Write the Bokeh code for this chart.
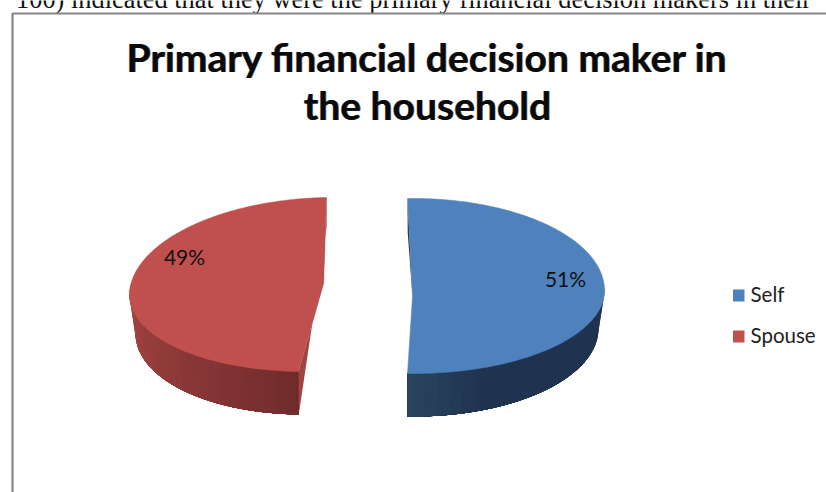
import numpy as np
from bokeh.core.properties import value
from bokeh.embed import file_html
from bokeh.plotting import figure
from bokeh.resources import INLINE

# Chart content
chart_title = ["Primary financial decision maker in", "the household"]
body_line = "100) indicated that they were the primary financial decision makers in their"
categories = ["Self", "Spouse"]
shares = [51, 49]
top_colors = ["#4F81BD", "#C0504D"]
wall_colors = ["#1F3350", "#9E4441"]

WIDTH, HEIGHT = 826, 492
START_ANGLE = -1.8
DEPTH_CENTRE = 38

# Placement of each exploded slice in page pixels
slices = [
    dict(cx=413, cy=290, rx=191, up=92, down=83, shear=0, apex=(412, 296),
         label=(565, 278)),
    dict(cx=318, cy=288, rx=188.5, up=91, down=83, shear=14, apex=(323, 283),
         label=(184, 256)),
]


def rim(s, deg, lower=False):
    """Project an angle, clockwise from twelve o'clock, onto a slice's rim."""
    t = np.radians(deg)
    sn, cs = np.sin(t), np.cos(t)
    rx = s["rx"] - 6 if lower else s["rx"]
    down = s["down"] + 5 if lower else s["down"]
    x = s["cx"] + rx * sn + s["shear"] * cs
    y = s["cy"] - np.where(cs > 0, s["up"], down) * cs
    return x, y + (DEPTH_CENTRE if lower else 0)


def mix(a, b, f):
    ca = [int(a[i:i + 2], 16) for i in (1, 3, 5)]
    cb = [int(b[i:i + 2], 16) for i in (1, 3, 5)]
    return "#%02x%02x%02x" % tuple(round(p + (q - p) * f) for p, q in zip(ca, cb))


def wall_band(s, a, b, col):
    """Side wall between two angles; later bands paint over earlier ones."""
    seg = np.linspace(a, b, 50)
    tx, ty = rim(s, seg)
    bx, by = rim(s, seg[::-1], lower=True)
    p.patch(np.r_[tx, bx], np.r_[ty, by], fill_color=col, line_color=None)


p = figure(width=WIDTH, height=HEIGHT, x_range=(0, WIDTH), y_range=(HEIGHT, 0),
           output_backend="svg", toolbar_location=None, min_border=0,
           background_fill_color="white", border_fill_color="white",
           outline_line_color=None)
p.axis.visible = False
p.grid.visible = False

# Page text above the chart and the chart's frame, which runs off the page
p.text([15.5], [-2], text=[body_line], text_font=value("Liberation Serif"),
       text_font_size="26.4px", text_color="#111111", text_baseline="middle")
p.line([12, 12, WIDTH], [HEIGHT, 13, 13], line_color="#868686", line_width=2.2)

# Slices: sweep clockwise from the shared start angle
angles = START_ANGLE + np.cumsum([0] + shares) * 3.6
for i, s in enumerate(slices):
    a0, a1 = angles[i], angles[i + 1]
    sweep = np.linspace(a0, a1, 160)
    xs, ys = rim(s, sweep)
    ax, ay = s["apex"]

    if i == 0:
        # Curved outer wall, lighter toward the cut at the bottom
        for a in np.linspace(88, a1 - 1, 24):
            f = min(1.0, max(0.0, (a1 - a) / 26))
            wall_band(s, a, a1, mix("#2C4560", wall_colors[0], f))
        # Sliver of the cut face at the top of the slice
        x0, y0 = rim(s, a0)
        x1, y1 = rim(s, a0, lower=True)
        p.patch([x0, x1, ax], [y0, y1 - 4, ay], fill_color=wall_colors[0], line_color=None)
    else:
        # Curved outer wall, darkening toward the exposed corner
        stops = np.linspace(a0, 272, 30)
        for a in stops[::-1]:
            f = (a - a0) / (272 - a0)
            wall_band(s, a0, a + 1, mix("#6E2A2B", "#A64643", f ** 0.85))
        # Cut face seen along the gap between the slices
        xe, ye = rim(s, a1)
        xs0, ys0 = rim(s, a0)
        xs1, ys1 = rim(s, a0, lower=True)
        p.patch([xe, xe, xs1, xs0, ax], [ye, ye + 30, ys1, ys0, ay],
                fill_color=wall_colors[1], line_color=None)

    p.patch(np.r_[xs, ax], np.r_[ys, ay], fill_color=top_colors[i], line_color=top_colors[i], line_width=0.5)
    p.text([s["label"][0]], [s["label"][1]], text=[f"{shares[i]}%"], text_font=value("Lato"),
           text_font_size="21px", text_color="#111111", text_align="center", text_baseline="middle")

# Title, with a faint second pass that thickens the strokes
for line, y in zip(chart_title, (56, 104)):
    for dx, alpha in ((-0.6, 0.55), (0.6, 0.55), (0, 1.0)):
        p.text([427 + dx], [y], text=[line], text_font=value("Lato"), text_font_style="bold",
               text_font_size="39px", text_color="#0a0a0a", text_alpha=alpha, text_align="center",
               text_baseline="middle")

# Legend
for name, col, y in zip(categories, top_colors, (295, 336)):
    p.quad(left=[732.5], right=[744], top=[y - 6], bottom=[y + 6], fill_color=col, line_color=None)
    p.text([750], [y - 2], text=[name], text_font=value("Lato"), text_font_size="20.5px",
           text_color="#222222", text_baseline="middle")

open("out.html", "w").write(file_html(p, INLINE))
